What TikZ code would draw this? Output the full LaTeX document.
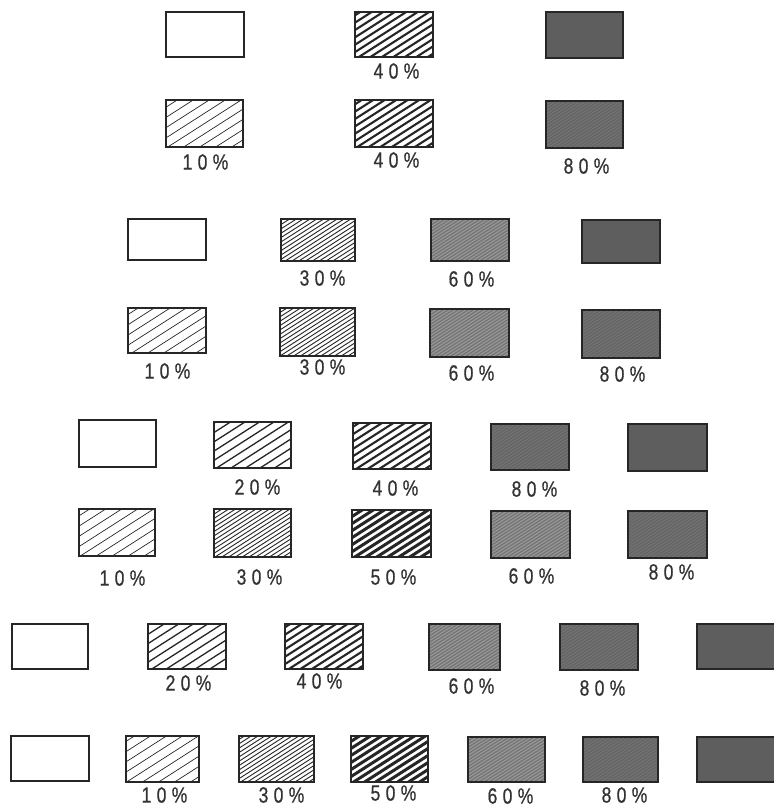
\documentclass[tikz,border=0pt]{standalone}
\usepackage{fontspec}
\setmainfont{Liberation Sans}[FakeStretch=0.8, LetterSpace=24, FakeBold=0.5]
\definecolor{ink}{HTML}{262626}
\definecolor{txt}{HTML}{333333}
\definecolor{gsix}{HTML}{767676}
\definecolor{gsixl}{HTML}{9A9A9A}
\definecolor{geight}{HTML}{666666}
\definecolor{geightl}{HTML}{747474}
\definecolor{gsolid}{HTML}{5E5E5E}
\tikzset{
  boxbase/.style={draw=ink, line width=1.7pt, inner sep=0pt, outer sep=0pt, anchor=north west},
  hatch/.style n args={4}{path picture={
      \fill[#4] (path picture bounding box.south west) rectangle (path picture bounding box.north east);
      \foreach \k in {-30,...,30}
        \draw[line width=#2, #3] ([shift={(\k*#1-50,32)}]path picture bounding box.center) -- ++(100,-64);}},
  pwhite/.style={fill=white},
  pten/.style={hatch={16}{0.7pt}{ink}{white}},
  ptwenty/.style={hatch={14.5}{1.3pt}{ink}{white}},
  pthirty/.style={hatch={6.8}{0.9pt}{ink}{white}},
  pforty/.style={hatch={11.5}{2.1pt}{ink}{white}},
  pfifty/.style={hatch={11}{3pt}{ink}{white}},
  psixty/.style={hatch={5}{1pt}{gsixl}{gsix}},
  peighty/.style={hatch={5}{0.9pt}{geightl}{geight}},
  psolid/.style={fill=gsolid},
  lab/.style={font=\fontsize{22}{22}\selectfont, text=txt, inner sep=0pt, xshift=2.5pt},
}
\newcommand{\bx}[6]{\node[boxbase,#6,minimum width={(#4-#2)*1pt},minimum height={(#5-#3)*1pt}] (#1) at (#2,#3) {};}
\begin{document}
\begin{tikzpicture}[x=1pt,y=-1pt]
\useasboundingbox[fill=white] (0,0) rectangle (774,807);
% row 1
\bx{ra1}{166}{12}{244}{57}{pwhite}
\bx{ra2}{355}{12}{433}{57}{pforty}
\bx{ra3}{546}{12}{623}{58}{psolid}
\node[lab] (la2) at (394,71) {40\%};
% row 2
\bx{rb1}{166}{100}{243}{147}{pten}
\bx{rb2}{355}{100}{433}{147}{pforty}
\bx{rb3}{546}{101}{623}{148}{peighty}
\node[lab] (lb1) at (203,162) {10\%};
\node[lab] (lb2) at (394,160) {40\%};
\node[lab] (lb3) at (584,166) {80\%};
% row 3
\bx{rc1}{128}{219}{206}{260}{pwhite}
\bx{rc2}{281}{219}{355}{261}{pthirty}
\bx{rc3}{431}{219}{509}{261}{psixty}
\bx{rc4}{582}{220}{660}{263}{psolid}
\node[lab] (lc2) at (320,278) {30\%};
\node[lab] (lc3) at (469,279) {60\%};
% row 4
\bx{rd1}{128}{308}{206}{353}{pten}
\bx{rd2}{280}{308}{355}{356}{pthirty}
\bx{rd3}{430}{309}{509}{357}{psixty}
\bx{rd4}{582}{310}{660}{358}{peighty}
\node[lab] (ld1) at (165,371) {10\%};
\node[lab] (ld2) at (320,367) {30\%};
\node[lab] (ld3) at (469,373) {60\%};
\node[lab] (ld4) at (620,374) {80\%};
% row 5
\bx{re1}{79}{420}{156}{467}{pwhite}
\bx{re2}{214}{422}{291}{468}{ptwenty}
\bx{re3}{353}{423}{431}{469}{pforty}
\bx{re4}{491}{424}{569}{470}{peighty}
\bx{re5}{628}{424}{707}{471}{psolid}
\node[lab] (le2) at (255,487) {20\%};
\node[lab] (le3) at (393,488) {40\%};
\node[lab] (le4) at (532,489) {80\%};
% row 6
\bx{rf1}{79}{509}{155}{556}{pten}
\bx{rf2}{214}{509}{291}{557}{pthirty}
\bx{rf3}{352}{510}{431}{557}{pfifty}
\bx{rf4}{491}{511}{570}{558}{psixty}
\bx{rf5}{628}{511}{707}{558}{peighty}
\node[lab] (lf1) at (120,578) {10\%};
\node[lab] (lf2) at (257,577) {30\%};
\node[lab] (lf3) at (391,577) {50\%};
\node[lab] (lf4) at (529,576) {60\%};
\node[lab] (lf5) at (669,572) {80\%};
% row 7
\bx{rg1}{12}{624}{88}{669}{pwhite}
\bx{rg2}{148}{624}{226}{669}{ptwenty}
\bx{rg3}{285}{624}{363}{669}{pforty}
\bx{rg4}{429}{624}{500}{670}{psixty}
\bx{rg5}{560}{624}{638}{670}{peighty}
\bx{rg6}{697}{624}{780}{669}{psolid}
\node[lab] (lg2) at (186,683) {20\%};
\node[lab] (lg3) at (317,681) {40\%};
\node[lab] (lg4) at (469,686) {60\%};
\node[lab] (lg5) at (600,688) {80\%};
% row 8
\bx{rh1}{11}{736}{89}{781}{pwhite}
\bx{rh2}{126}{736}{199}{782}{pten}
\bx{rh3}{239}{736}{314}{782}{pthirty}
\bx{rh4}{351}{736}{428}{782}{pfifty}
\bx{rh5}{468}{737}{545}{782}{psixty}
\bx{rh6}{583}{737}{658}{782}{peighty}
\bx{rh7}{697}{737}{780}{782}{psolid}
\node[lab] (lh2) at (162,795) {10\%};
\node[lab] (lh3) at (279,795) {30\%};
\node[lab] (lh4) at (391,793) {50\%};
\node[lab] (lh5) at (508,796) {60\%};
\node[lab] (lh6) at (622,795) {80\%};
\end{tikzpicture}
\end{document}
